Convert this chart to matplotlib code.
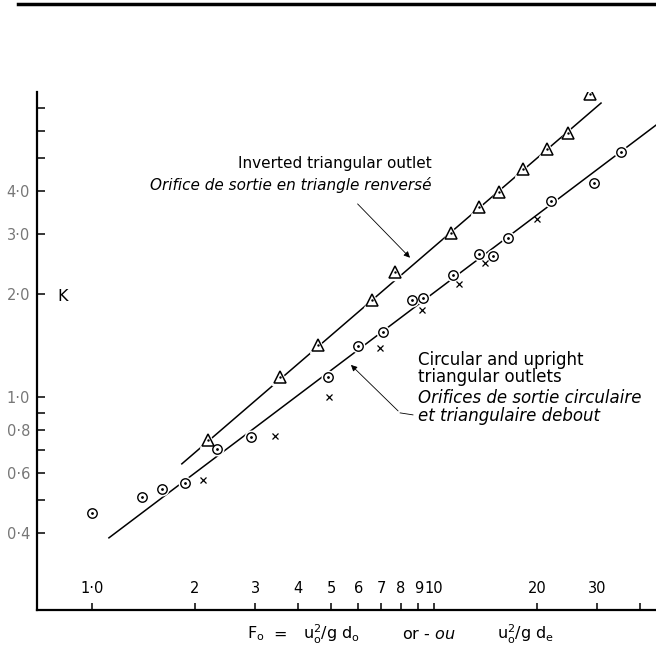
import matplotlib
matplotlib.use("Agg")
import matplotlib.pyplot as plt
from matplotlib.lines import Line2D
from matplotlib.ticker import NullLocator

# inverted triangular outlet (triangles)
tri_F = [2.18, 3.55, 4.58, 6.59, 7.69, 11.2, 13.5, 15.5, 18.2, 21.4, 24.6, 28.6]
tri_K = [0.748, 1.14, 1.42, 1.92, 2.32, 3.02, 3.59, 3.98, 4.64, 5.31, 5.92, 7.69]

# circular outlets (circles)
circ_F = [1.00, 1.40, 1.60, 1.87, 2.32, 2.92, 4.90, 6.00, 7.09, 8.62, 9.29,
          11.4, 13.5, 14.9, 16.5, 22.0, 29.4, 35.2]
circ_K = [0.458, 0.510, 0.538, 0.560, 0.705, 0.764, 1.14, 1.41, 1.55, 1.92, 1.95,
          2.27, 2.62, 2.58, 2.92, 3.74, 4.22, 5.21]

# upright triangular outlets (crosses)
up_F = [2.11, 3.43, 4.93, 6.95, 9.22, 11.8, 14.1, 20.0]
up_K = [0.572, 0.769, 1.00, 1.39, 1.79, 2.14, 2.47, 3.32]

# fitted lines, end points
fit_tri_F = [1.83, 30.8]
fit_tri_K = [0.637, 7.24]
fit_circ_F = [1.12, 44.6]
fit_circ_K = [0.387, 6.24]

# leader arrows
arrow_tri_start = (5.9, 3.72)
arrow_tri_tip = (8.62, 2.52)
arrow_circ_path_F = [8.68, 7.96]
arrow_circ_path_K = [0.886, 0.898]
arrow_circ_tip = (5.64, 1.257)

xticks = [1, 2, 3, 4, 5, 6, 7, 8, 9, 10, 20, 30, 40]
xticklabels = ['1·0', '2', '3', '4', '5', '6', '7', '8', '9', '10', '20', '30', '']
yticks = [0.4, 0.5, 0.6, 0.7, 0.8, 0.9, 1, 2, 3, 4, 5, 6, 7]
yticklabels = ['0·4', '', '0·6', '', '0·8', '', '1·0', '2·0', '3·0', '4·0', '', '', '']

fig = plt.figure(figsize=(6.56, 6.52), dpi=100)
ax = fig.add_axes([0.0564, 0.0644, 0.9436, 0.7945])

ax.set_xscale('log')
ax.set_yscale('log')
ax.set_xlim(0.69, 44.6)
ax.set_ylim(0.238, 7.8)

# fitted lines
ax.plot(fit_tri_F, fit_tri_K, color='black', lw=1.1, zorder=2)
ax.plot(fit_circ_F, fit_circ_K, color='black', lw=1.1, zorder=2)

# white halo under markers breaks the lines like in the drawing
ax.plot(tri_F, tri_K, '^', ms=12, mfc='white', mec='white', zorder=3)
ax.plot(circ_F, circ_K, 'o', ms=9, mfc='white', mec='white', zorder=3)

ax.plot(tri_F, tri_K, '^', ms=8.5, mfc='white', mec='black', mew=1.1, zorder=4)
ax.plot(tri_F, tri_K, '.', ms=1.5, color='black', zorder=5)
ax.plot(circ_F, circ_K, 'o', ms=6.8, mfc='white', mec='black', mew=1.0, zorder=4)
ax.plot(circ_F, circ_K, '.', ms=2, color='black', zorder=5)
ax.plot(up_F, up_K, 'x', ms=5, color='black', mew=0.9, zorder=4)

# leaders
ax.annotate('', xy=arrow_tri_tip, xytext=arrow_tri_start,
            arrowprops=dict(arrowstyle='-|>', lw=0.6, color='black', mutation_scale=9))
ax.plot(arrow_circ_path_F, arrow_circ_path_K, color='black', lw=0.6)
ax.annotate('', xy=arrow_circ_tip, xytext=(arrow_circ_path_F[1], arrow_circ_path_K[1]),
            arrowprops=dict(arrowstyle='-|>', lw=0.6, color='black', mutation_scale=9))

# axes style
for s in ['top', 'right']:
    ax.spines[s].set_visible(False)
ax.spines['left'].set_linewidth(1.6)
ax.spines['bottom'].set_linewidth(1.6)

ax.set_xticks(xticks)
ax.set_xticklabels(xticklabels)
ax.set_yticks(yticks)
ax.set_yticklabels(yticklabels)
ax.xaxis.set_minor_locator(NullLocator())
ax.yaxis.set_minor_locator(NullLocator())
ax.tick_params(axis='x', direction='in', length=5, width=1.1, pad=-21, labelsize=10.5)
ax.tick_params(axis='y', direction='in', length=6, width=1.1, pad=5, labelsize=10.5,
               labelcolor='#777777')

# texts
fig.text(0.096, 0.5445, 'K', fontsize=11.5, ha='center', va='center')
fig.text(0.6585, 0.7485, 'Inverted triangular outlet', fontsize=11, ha='right', va='center')
fig.text(0.6585, 0.7163, 'Orifice de sortie en triangle renversé', fontsize=11,
         ha='right', va='center', style='italic')
fig.text(0.637, 0.4479, 'Circular and upright', fontsize=12, ha='left', va='center')
fig.text(0.637, 0.4218, 'triangular outlets', fontsize=12, ha='left', va='center')
fig.text(0.637, 0.3896, 'Orifices de sortie circulaire', fontsize=12,
         ha='left', va='center', style='italic')
fig.text(0.637, 0.3620, 'et triangulaire debout', fontsize=12,
         ha='left', va='center', style='italic')

# x axis title, in pieces spaced like the drawing
fig.text(247 / 656, 0.0276, r'F$_{\rm o}$', fontsize=11.5, ha='left', va='center')
fig.text(280 / 656, 0.0276, '=', fontsize=11.5, ha='center', va='center')
fig.text(303 / 656, 0.0276, r'u$_{\rm o}^{2}$/g d$_{\rm o}$', fontsize=11.5,
         ha='left', va='center')
fig.text(402 / 656, 0.0276, r'or - $\it{ou}$', fontsize=11.5, ha='left', va='center')
fig.text(497 / 656, 0.0276, r'u$_{\rm o}^{2}$/g d$_{\rm e}$', fontsize=11.5,
         ha='left', va='center')

# page edge rule at the top of the scan
fig.add_artist(Line2D([0.028, 1.0], [0.994, 0.994], lw=2.5, color='black',
                      transform=fig.transFigure))

fig.savefig('out.png', dpi=100)
